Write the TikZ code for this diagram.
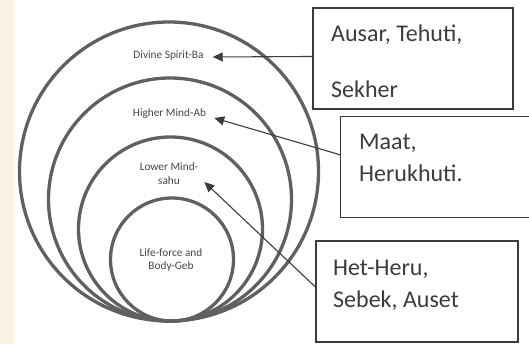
\documentclass[tikz,border=0pt]{standalone}
\usepackage{fontspec}
\setmainfont{Carlito}
\usetikzlibrary{arrows.meta,calc}
\definecolor{ring}{HTML}{606060}
\definecolor{ink}{HTML}{3C3C3C}
\definecolor{lab}{HTML}{464646}
\definecolor{beige}{HTML}{FBF4E6}
\tikzset{
  ringline/.style={draw=ring, line width=3.3pt},
  smalllabel/.style={text=lab, font=\fontsize{11.3}{13.5}\selectfont, align=center, inner sep=0pt},
  boxframe/.style={draw=ink, line width=1.2pt, inner sep=0pt},
  boxtext/.style={text=ink, font=\fontsize{24}{32}\selectfont, anchor=base west, inner sep=0pt},
  pointer/.style={draw=ink, line width=1.1pt, -{Triangle[length=10pt,width=9pt]}}
}
\begin{document}
\begin{tikzpicture}[x=1pt,y=-1pt]
\useasboundingbox (0,0) rectangle (529,344);
\fill[white] (0,0) rectangle (529,344);
\fill[beige] (0,0) rectangle (14,344);
% rings
\draw[ringline] (169,171.5) circle (149.5);
\draw[ringline] (170,199.5) circle (121.5);
\draw[ringline] (170.5,229) circle (92);
\draw[ringline] (172,259.5) circle (61.5);
% ring labels
\node[smalllabel] (l1) at (168.5,56) {Divine Spirit-Ba};
\node[smalllabel] (l2) at (169.5,114) {Higher Mind-Ab};
\node[smalllabel] (l3) at (169,173.5) {Lower Mind-\\sahu};
\node[smalllabel] (l4) at (171,260) {Life-force and\\Body-Geb};
% boxes
\node[boxframe, minimum width=200pt, minimum height=101pt] (b1) at (413,58.5) {};
\node[boxtext] (t1a) at (331,42) {Ausar, Tehuti,};
\node[boxtext] (t1b) at (331,98) {Sekher};
\node[inner sep=0pt, minimum width=190pt, minimum height=100pt] (b2) at (436,167) {};
\draw[draw=ink, line width=1.2pt] (b2.north east) -- (b2.north west) -- (b2.south west) -- (b2.south east);
\node[boxtext] (t2a) at (359,150) {Maat,};
\node[boxtext] (t2b) at (359,182) {Herukhuti.};
\node[boxframe, minimum width=202pt, minimum height=101pt] (b3) at (417,291.5) {};
\node[boxtext] (t3a) at (333,275) {Het-Heru,};
\node[boxtext] (t3b) at (333,307) {Sebek, Auset};
% pointers
\draw[pointer] ($(b1.west)+(0,-2)$) -- ($(l1.east)+(9,1)$);
\draw[pointer] ($(b2.west)+(0,-12)$) -- ($(l2.east)+(8,4)$);
\draw[pointer] ($(b3.west)+(0,-4.5)$) -- ($(l3.east)+(6,8.5)$);
\end{tikzpicture}
\end{document}
